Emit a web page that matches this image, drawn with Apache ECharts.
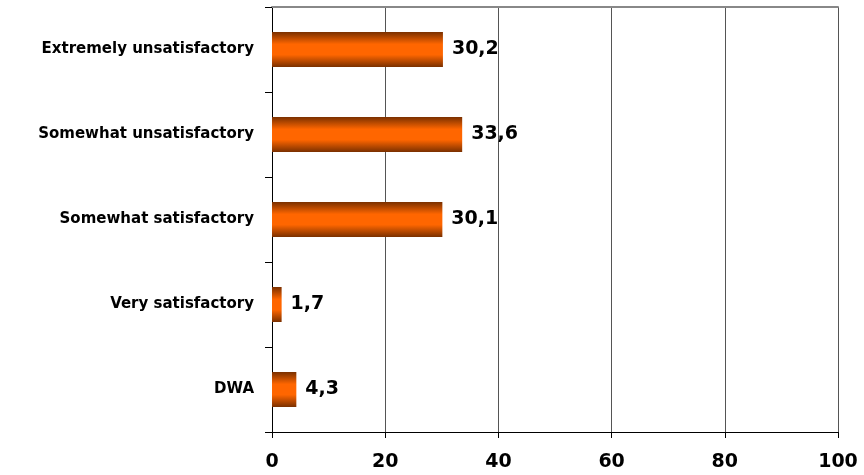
<!DOCTYPE html>
<html>
<head>
<meta charset="utf-8">
<script src="https://cdn.jsdelivr.net/npm/echarts@6/dist/echarts.min.js"></script>
<style>html,body{margin:0;padding:0;background:#fff;}#c{width:864px;height:475px;}</style>
</head>
<body>
<div id="c"></div>
<script>
const categories = ["Extremely unsatisfactory", "Somewhat unsatisfactory", "Somewhat satisfactory", "Very satisfactory", "DWA"];
const values = [30.2, 33.6, 30.1, 1.7, 4.3];
const xTicks = [0, 20, 40, 60, 80, 100];

const chart = echarts.init(document.getElementById('c'), null, {renderer: 'canvas'});
const font = 'DejaVu Sans';
chart.setOption({
  animation: false,
  backgroundColor: '#fff',
  grid: {left: 272, right: 26, top: 7, bottom: 43, containLabel: false},
  xAxis: [{
    type: 'value', min: xTicks[0], max: xTicks[xTicks.length - 1], interval: 20,
    axisLine: {show: true, lineStyle: {color: '#000', width: 1}},
    axisTick: {show: true, length: 6, lineStyle: {color: '#000'}},
    axisLabel: {margin: 21, fontFamily: font, fontWeight: 'bold', fontSize: 19, color: '#000'},
    splitLine: {show: true, lineStyle: {color: '#555', width: 1}}
  }, {
    type: 'value', position: 'top', min: 0, max: 100,
    axisLine: {show: true, lineStyle: {color: '#888', width: 2}},
    axisTick: {show: false}, axisLabel: {show: false}, splitLine: {show: false}
  }],
  yAxis: {
    type: 'category', data: categories, inverse: true,
    axisLine: {show: true, lineStyle: {color: '#000', width: 1}},
    axisTick: {show: true, length: 7, lineStyle: {color: '#000'}},
    axisLabel: {margin: 18, fontFamily: font, fontWeight: 'bold', fontSize: 15, color: '#000'}
  },
  series: [{
    type: 'bar', data: values, barWidth: 35, xAxisIndex: 0,
    itemStyle: {
      color: new echarts.graphic.LinearGradient(0, 0, 0, 1, [
        {offset: 0, color: '#7a3000'},
        {offset: 0.35, color: '#ff6600'},
        {offset: 0.65, color: '#ff6600'},
        {offset: 1, color: '#7a3000'}
      ])
    },
    label: {
      show: true, position: 'right', distance: 9,
      fontFamily: font, fontWeight: 'bold', fontSize: 19, color: '#000',
      formatter: p => String(p.value).replace('.', ',')
    }
  }]
});
</script>
</body>
</html>
